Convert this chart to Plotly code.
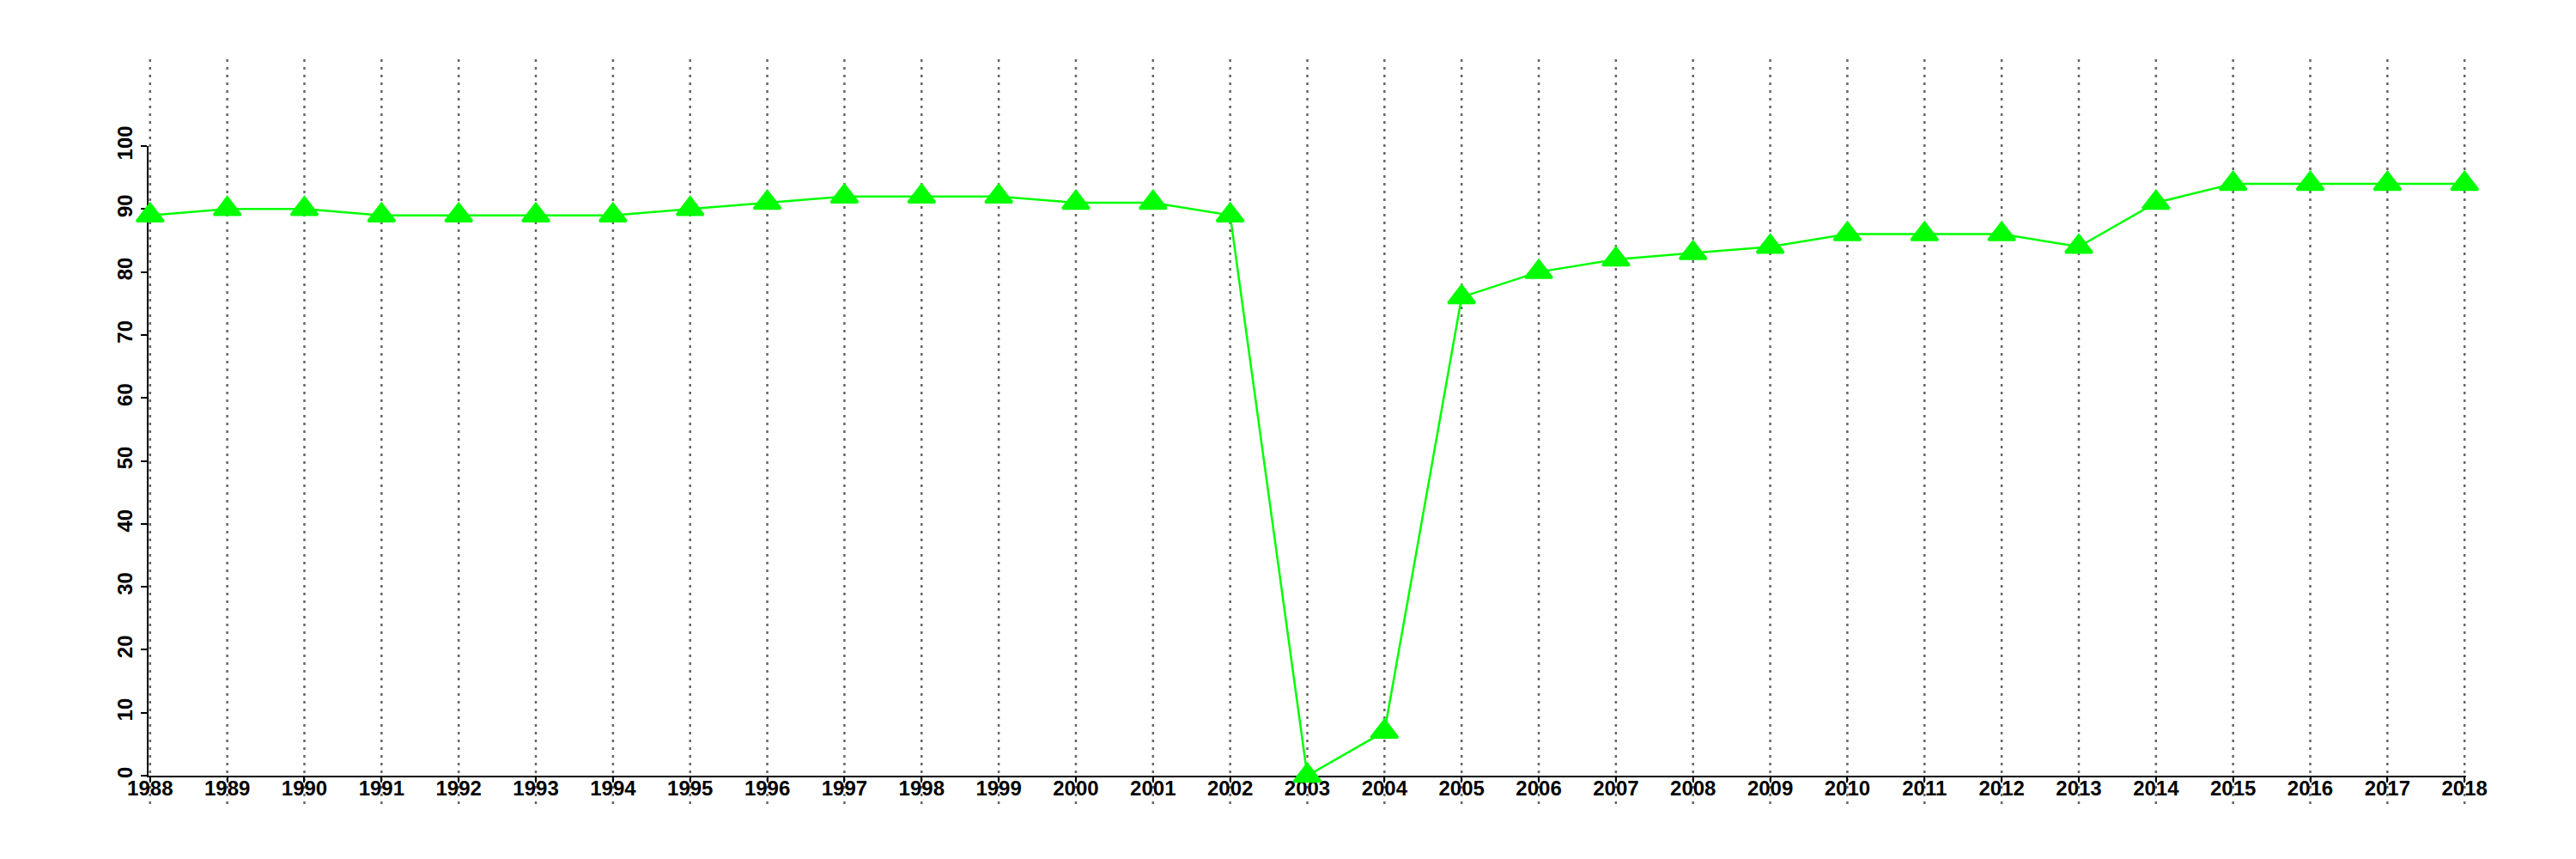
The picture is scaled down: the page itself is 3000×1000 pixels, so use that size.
import plotly.graph_objects as go

years = list(range(1988, 2019))
values = [89, 90, 90, 89, 89, 89, 89, 90, 91, 92, 92, 92, 91, 91, 89,
          0, 7, 76, 80, 82, 83, 84, 86, 86, 86, 84, 91, 94, 94, 94, 94]
y_ticks = [0, 10, 20, 30, 40, 50, 60, 70, 80, 90, 100]

FONT = dict(family="Liberation Sans", size=24, color="black", weight="bold")

fig = go.Figure()
fig.add_trace(go.Scatter(
    x=years, y=values, mode="lines+markers",
    line=dict(color="#00ff00", width=2.5),
    marker=dict(symbol="triangle-up", size=27, color="#00ff00",
                line=dict(color="#00ff00", width=3)),
    cliponaxis=False, showlegend=False,
))

for yr in years:
    fig.add_shape(type="line", xref="x", yref="paper",
                  x0=yr, x1=yr, y0=-0.045, y1=1.139,
                  line=dict(color="#666666", width=2.5, dash="3px,6px"),
                  layer="below")

fig.update_layout(
    width=3000, height=1000,
    margin=dict(l=165, r=136, t=162, b=105, pad=0),
    paper_bgcolor="white", plot_bgcolor="white",
    xaxis=dict(range=[1987.98, 2018.02], tickmode="array", tickvals=years,
               ticktext=[str(y) for y in years],
               showgrid=False, zeroline=False, showline=True,
               linecolor="black", linewidth=2, ticks="outside",
               ticklen=6, tickwidth=2, tickcolor="black",
               ticklabelstandoff=-14,
               tickfont=FONT, layer="below traces"),
    yaxis=dict(range=[0, 100], tickmode="array", tickvals=y_ticks,
               showgrid=False, zeroline=False, showline=True,
               linecolor="black", linewidth=2, ticks="outside",
               ticklen=7, tickwidth=2, tickcolor="black",
               tickangle=-90, tickfont=FONT, layer="below traces"),
)

fig.write_html("out.html")
